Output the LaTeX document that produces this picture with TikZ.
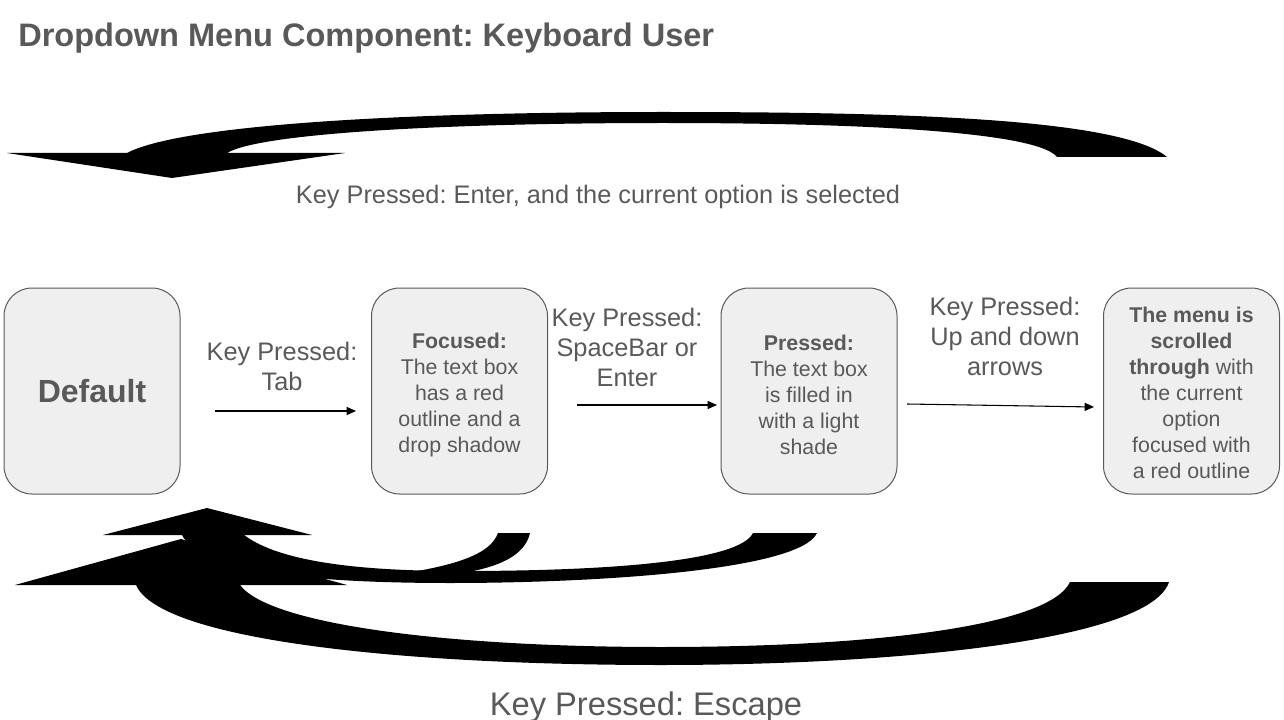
\documentclass[tikz,border=0pt]{standalone}
\usepackage{fontspec}
\setmainfont{Liberation Sans}
\usetikzlibrary{arrows.meta}
\definecolor{txt}{HTML}{595959}
\definecolor{boxfill}{HTML}{EFEFEF}
\frenchspacing

\begin{document}
\begin{tikzpicture}[x=0.75pt,y=-0.75pt]
\tikzstyle{state}=[rectangle, rounded corners=21pt, draw=txt, line width=0.75pt, fill=boxfill, minimum width=132pt, minimum height=154.5pt, inner sep=0pt]
\tikzstyle{boxtext}=[text=txt, align=center, inner sep=0pt, font=\fontsize{16}{19.5}\selectfont]
\tikzstyle{lbl}=[text=txt, align=center, inner sep=0pt, font=\fontsize{19}{22.5}\selectfont]
\tikzstyle{arrow}=[line width=0.8pt,-{Triangle[length=7pt,width=6pt]}]
\tikzstyle{blockarrow}=[fill=black]
\useasboundingbox (0,0) rectangle (1284,720);
\node[anchor=base west, text=txt, inner sep=0pt, font=\fontsize{24.4}{28}\selectfont\bfseries] (title) at (18,47) {Dropdown Menu Component: Keyboard User};
% states
\node[state] (dflt) at (92,391) {};
\node[state] (focus) at (459.5,391) {};
\node[state] (press) at (809,391) {};
\node[state] (menu) at (1191.5,391) {};
\node[boxtext, font=\fontsize{24}{28}\selectfont\bfseries] (dflttxt) at (dflt.center) {Default};
\node[boxtext, yshift=-3pt] (focustxt) at (focus.center) {\textbf{Focused:}\\The text box\\has a red\\outline and a\\drop shadow};
\node[boxtext, yshift=-3pt] (presstxt) at (press.center) {\textbf{Pressed:}\\The text box\\is filled in\\with a light\\shade};
\node[boxtext, yshift=-1.2pt] (menutxt) at (menu.center) {\textbf{The menu is}\\\textbf{scrolled}\\\textbf{through} with\\the current\\option\\focused with\\a red outline};
% labels
\node[lbl] (ktab) at (282,366) {Key Pressed:\\Tab};
\node[lbl] (kspace) at (627,347) {Key Pressed:\\SpaceBar or\\Enter};
\node[lbl] (karrows) at (1005,336) {Key Pressed:\\Up and down\\arrows};
\node[lbl, anchor=base] (kenter) at (598,204) {Key Pressed: Enter, and the current option is selected};
\node[lbl, anchor=base, font=\fontsize{24.5}{28}\selectfont] (kesc) at (646,715) {Key Pressed: Escape};
% straight arrows
\coordinate (tabS) at (215,411);
\coordinate (tabE) at (356,411);
\coordinate (spcS) at (577,405);
\coordinate (spcE) at (717,405);
\coordinate (updS) at (907,404);
\coordinate (updE) at (1094,407);
\draw[arrow] (tabS) -- (tabE);
\draw[arrow] (spcS) -- (spcE);
\draw[arrow] (updS) -- (updE);
% curved block arrows
\fill[blockarrow] (1057,157) -- (1167,157) .. controls (1120,118) and (900,112) .. (663,112)
  .. controls (400,112) and (180,125) .. (127,153) -- (7,153) -- (172,178) -- (345,153) -- (227,153)
  .. controls (260,133) and (450,123) .. (663,123) .. controls (900,123) and (1040,135) .. (1057,157) -- cycle;
\fill[blockarrow] (1070,582) -- (1169,582) .. controls (1150,640) and (900,665) .. (661,665)
  .. controls (400,665) and (160,640) .. (136,585) -- (15,585) -- (181,539) -- (347,585) -- (240,585)
  .. controls (270,625) and (450,647) .. (661,647) .. controls (880,647) and (1050,625) .. (1070,582) -- cycle;
\fill[blockarrow] (753,533) -- (817,533) .. controls (800,570) and (600,583) .. (450,583)
  .. controls (300,583) and (200,570) .. (182,535) -- (103,535) -- (207,508) -- (312,535) -- (244,535)
  .. controls (280,562) and (360,571) .. (460,571) .. controls (620,571) and (740,560) .. (753,533) -- cycle;
\fill[blockarrow] (498,533) -- (530,533) .. controls (525,555) and (500,568) .. (455,574)
  -- (400,574) .. controls (450,566) and (490,556) .. (498,533) -- cycle;
\end{tikzpicture}
\end{document}
